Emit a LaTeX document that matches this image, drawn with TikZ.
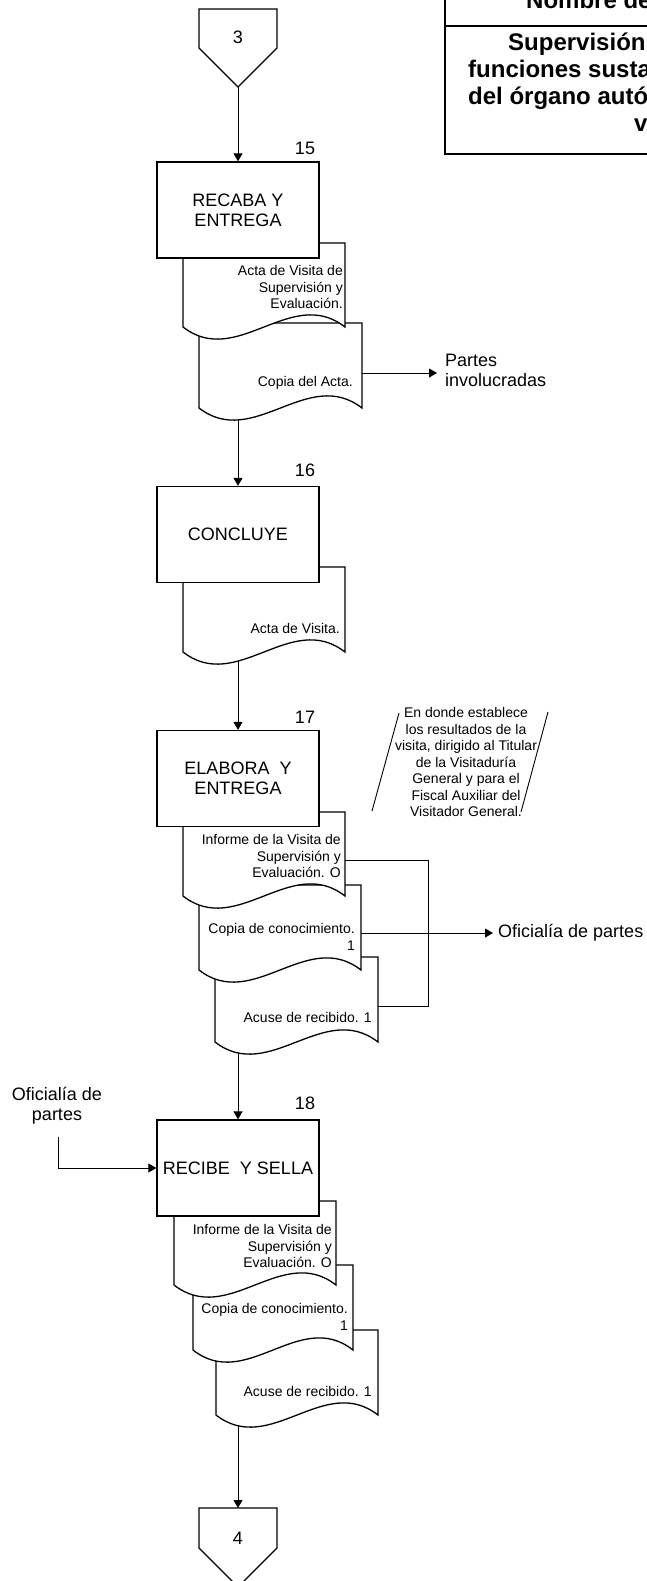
\documentclass[tikz,border=0pt]{standalone}
\usepackage{fontspec}
\setmainfont{Liberation Sans}
\usetikzlibrary{arrows.meta,calc}
\tikzset{
  boxline/.style={draw=black, line width=1.3pt},
  proc/.style={boxline, fill=white, minimum width=162pt, minimum height=96pt, inner sep=0pt, align=center, font=\fontsize{18}{20}\selectfont},
  doctext/.style={inner sep=0pt, align=right, font=\fontsize{14}{16.5}\selectfont},
  conn/.style={draw=black, line width=0.9pt},
  arr/.style={conn, -{Triangle[length=8pt,width=9pt]}},
  num/.style={inner sep=0pt, font=\fontsize{18}{20}\selectfont},
  lbl/.style={inner ysep=0pt, align=left, font=\fontsize{18}{20}\selectfont},
  anntext/.style={inner sep=0pt, align=center, font=\fontsize{14}{16.5}\selectfont},
  titletext/.style={inner sep=0pt, anchor=base west, font=\fontsize{24}{28}\bfseries\selectfont},
}
\newcommand\mydoc[5]{%
  \pgfmathsetmacro\dw{(#4-#2)/3}%
  \filldraw[boxline, fill=white] (#2,#3) coordinate (#1-nw) -- (#4,#3) -- (#4,#5) coordinate (#1-se)
     .. controls ({#4-\dw},{#5-42}) and ({#2+\dw},{#5+42}) .. (#2,#5) -- cycle;
}
\begin{document}
\begin{tikzpicture}[x=1pt,y=-1pt]
\useasboundingbox (0,0) rectangle (646,1581);
\fill[white] (0,0) rectangle (646,1581);

% title box
\draw[line width=2pt] (445,-10) rectangle (900,154);
\draw[line width=2pt] (445,26) -- (900,26);
\node[titletext] (t0) at (526,9) {Nombre de};
\node[titletext] (t1) at (508,51) {Supervisión};
\node[titletext] (t2) at (468,78) {funciones susta};
\node[titletext] (t3) at (468,105) {del órgano autó};
\node[titletext] (t4) at (634,132) {v};

% off-page connector 3
\filldraw[boxline, fill=white] (199,9) -- (277,9) -- (277,48) -- (238,87) coordinate (c3tip) -- (199,48) -- cycle;
\node[num] (c3) at (238,37) {3};

% step 15
\mydoc{d152}{199}{323}{362}{408}
\mydoc{d151}{183}{243}{345}{327}
\node[proc] (b15) at (238,210) {RECABA Y\\ENTREGA};
\node[num] (n15) at (305,148) {15};
\node[doctext, anchor=east] (t151) at (343,287) {Acta de Visita de\\Supervisión y\\Evaluación.};
\node[doctext, anchor=east] (t152) at (353,383) {Copia del Acta.};
\draw[arr] (c3tip) -- (b15.north);
\coordinate (d152r) at (362,373);
\node[lbl, anchor=west, inner xsep=8pt] (partes) at (437,370) {Partes\\involucradas};
\draw[arr] (d152r) -- (d152r -| partes.west);
\coordinate (d152b) at (238,420);

% step 16
\mydoc{d16}{183}{567}{345}{652}
\node[proc] (b16) at (238,534.5) {CONCLUYE};
\node[num] (n16) at (305,470) {16};
\node[doctext, anchor=east] (t16) at (340,628) {Acta de Visita.};
\draw[arr] (d152b) -- (b16.north);
\coordinate (d16b) at (238,661);

% step 17
\mydoc{d173}{215}{957}{378}{1042}
\mydoc{d172}{199}{885}{361}{970}
\mydoc{d171}{183}{812}{345}{896}
\node[proc] (b17) at (238,778.5) {ELABORA\ \ Y\\ENTREGA};
\node[num] (n17) at (305,717) {17};
\draw[arr] (d16b) -- (b17.north);
\node[doctext, anchor=east] (t171) at (341,856) {Informe de la Visita de\\Supervisión y\\Evaluación. O};
\node[doctext, anchor=east] (t172) at (355,937) {Copia de conocimiento.\\1};
\node[doctext, anchor=east] (t173) at (372,1017) {Acuse de recibido. 1};
\coordinate (d171r) at (345,860);
\coordinate (d173r) at (378,1006);
\coordinate (loopx) at (428,860);
\draw[conn] (d171r) -- (loopx) |- (d173r);
\coordinate (d172r) at (361,933);
\node[lbl, anchor=west, inner xsep=5pt] (ofi1) at (493,933) {Oficialía de partes};
\draw[arr] (d172r) -- (ofi1.west);
\coordinate (d173b) at (238,1053);

% annotation
\node[anntext] (ann) at (466,762) {En donde establece\\los resultados de la\\visita, dirigido al Titular\\de la Visitaduría\\General y para el\\Fiscal Auxiliar del\\Visitador General.};
\draw[conn] (372,811) -- (399,713);
\draw[conn] (548,712) -- (521,812);

% step 18
\mydoc{d183}{216}{1330}{378}{1415}
\mydoc{d182}{193}{1265}{353}{1350}
\mydoc{d181}{174}{1201}{336}{1285}
\node[proc] (b18) at (238,1168) {RECIBE\ \ Y SELLA};
\node[num] (n18) at (305,1103) {18};
\draw[arr] (d173b) -- (b18.north);
\node[doctext, anchor=east] (t181) at (332,1246) {Informe de la Visita de\\Supervisión y\\Evaluación. O};
\node[doctext, anchor=east] (t182) at (348,1317) {Copia de conocimiento.\\1};
\node[doctext, anchor=east] (t183) at (372,1391) {Acuse de recibido. 1};
\node[lbl, align=center, inner sep=0pt] (ofi2) at (57,1106) {Oficialía de\\partes};
\coordinate (ofi2b) at (58,1137);
\draw[arr] (ofi2b) |- (b18.west);
\coordinate (d183b) at (238,1426);

% off-page connector 4
\filldraw[boxline, fill=white] (199,1508) -- (277,1508) -- (277,1548) -- (238,1587) -- (199,1548) -- cycle;
\coordinate (c4in) at (238,1508);
\node[num] (c4) at (238,1538) {4};
\draw[arr] (d183b) -- (c4in);
\end{tikzpicture}
\end{document}
